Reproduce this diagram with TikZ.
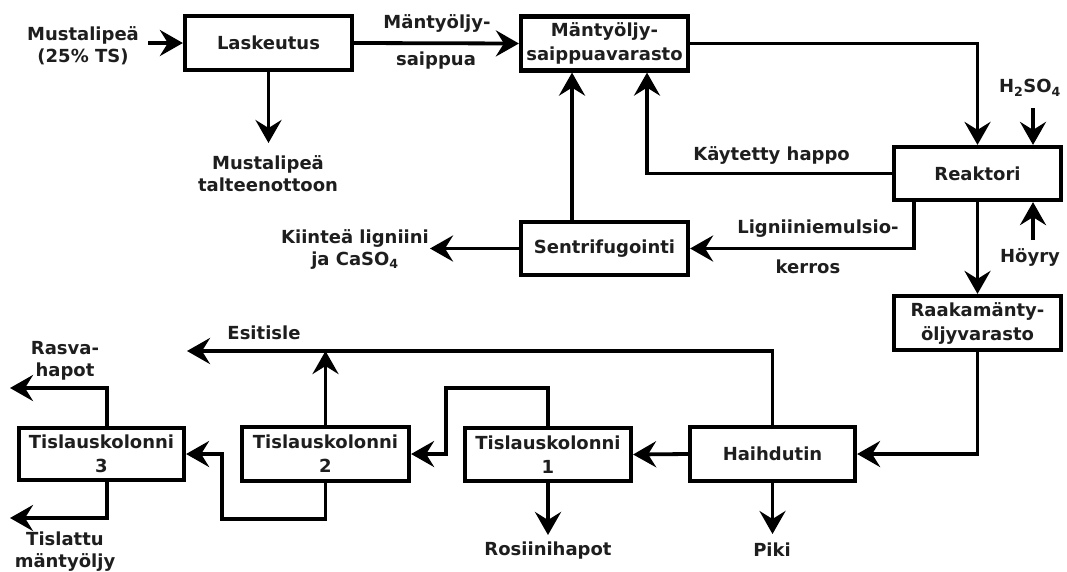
\documentclass[tikz,border=0pt]{standalone}
\usepackage{fontspec}
\setmainfont{DejaVu Sans}
\usetikzlibrary{arrows.meta,calc}
\definecolor{txt}{RGB}{30,30,30}
\tikzset{
  box/.style={draw=black, line width=4.2pt, minimum width=167pt, minimum height=54pt, inner sep=0pt, align=center, text=txt, font=\fontsize{18}{24}\selectfont\bfseries},
  lbl/.style={inner sep=0pt, align=center, text=txt, font=\fontsize{18}{22}\selectfont\bfseries},
  tip/.tip={Stealth[length=23pt,width=26pt,inset=8pt]},
  flow/.style={line width=3.8pt, -tip},
}
\begin{document}
\begin{tikzpicture}[x=1pt,y=-1pt]
\useasboundingbox (0,0) rectangle (1067,571);
% boxes
\node[box] (lask) at (268.5,43) {Laskeutus};
\node[box] (msv) at (604.5,43.5) {Mäntyöljy-\\saippuavarasto};
\node[box, minimum height=53pt] (reak) at (977.5,173.5) {Reaktori};
\node[box] (raaka) at (977.5,323) {Raakamänty-\\öljyvarasto};
\node[box, minimum height=53pt] (sentr) at (604.5,248.5) {Sentrifugointi};
\node[box, minimum width=165pt, minimum height=52pt] (tk3) at (101.5,454) {Tislauskolonni\\3};
\node[box] (tk2) at (325.5,454) {Tislauskolonni\\2};
\node[box, minimum width=166pt, minimum height=53pt] (tk1) at (548,454.5) {Tislauskolonni\\1};
\node[box, minimum width=165pt] (haih) at (772.5,454) {Haihdutin};
% labels
\node[lbl] (in1) at (83,46) {Mustalipeä\\(25\% TS)};
\node[lbl] (l1a) at (437,23) {Mäntyöljy-};
\node[lbl] (l1b) at (436,61) {saippua};
\node[lbl] (out1) at (268,174) {Mustalipeä\\talteenottoon};
\node[lbl] (h2so4) at (1030,88) {H\textsubscript{2}SO\textsubscript{4}};
\node[lbl, anchor=east] (kayt) at (850,155) {Käytetty happo};
\node[lbl] (lig1) at (818,229) {Ligniiniemulsio-};
\node[lbl] (lig2) at (808,267) {kerros};
\node[lbl] (kiint) at (355,249) {Kiinteä ligniini\\ja CaSO\textsubscript{4}};
\node[lbl] (hoyry) at (1030,257) {Höyry};
\node[lbl] (esit) at (264,333) {Esitisle};
\node[lbl] (rasva) at (65,361) {Rasva-\\hapot};
\node[lbl] (tisl) at (65,552) {Tislattu\\mäntyöljy};
\node[lbl] (rosi) at (548,551) {Rosiinihapot};
\node[lbl] (piki) at (772,550) {Piki};
% free ends / bends
\coordinate (a1) at (148,43);
\coordinate (a2) at (268.5,143);
\coordinate (a3) at (1033,108);
\coordinate (a4) at (647,173.5);
\coordinate (a5) at (914,248.5);
\coordinate (a6) at (572,0);
\coordinate (a7) at (430,248.5);
\coordinate (a8) at (1033,240);
\coordinate (a9) at (772.5,534);
\coordinate (e1) at (772.5,351);
\coordinate (e2) at (187,351);
\coordinate (a10) at (548,535);
\coordinate (b1) at (548,388);
\coordinate (b2) at (446,388);
\coordinate (b3) at (446,454);
\coordinate (c1) at (325.5,519);
\coordinate (c2) at (222,519);
\coordinate (c3) at (222,454);
\coordinate (d0) at (107,0);
\coordinate (d1) at (107,388);
\coordinate (d2) at (10,388);
\coordinate (d3) at (107,518);
\coordinate (d4) at (10,518);
% connectors
\draw[flow] (a1) -- (lask.west);
\draw[flow] (lask.east) -- (msv.west);
\draw[flow] (lask.south) -- (a2);
\draw[flow] (msv.east) -| (reak.north);
\draw[flow] (a3) -- (a3 |- reak.north);
\draw[flow] (reak.west) -- (a4) -- (a4 |- msv.south);
\draw[flow] (a5 |- reak.south) -- (a5) -- (sentr.east);
\draw[flow] (a6 |- sentr.north) -- (a6 |- msv.south);
\draw[flow] (sentr.west) -- (a7);
\draw[flow] (a8) -- (a8 |- reak.south);
\draw[flow] (reak.south) -- (raaka.north);
\draw[flow] (raaka.south) |- (haih.east);
\draw[flow] (haih.west) -- (tk1.east);
\draw[flow] (haih.south) -- (a9);
\draw[flow] (haih.north) -- (e1) -- (e2);
\draw[flow] (tk1.south) -- (a10);
\draw[flow] (tk1.north) -- (b1) -- (b2) -- (b3) -- (tk2.east);
\draw[flow] (tk2.north) -- (tk2.north |- e1);
\draw[flow] (tk2.south) -- (c1) -- (c2) -- (c3) -- (tk3.east);
\draw[flow] (d0 |- tk3.north) -- (d1) -- (d2);
\draw[flow] (d0 |- tk3.south) -- (d3) -- (d4);
\end{tikzpicture}
\end{document}
